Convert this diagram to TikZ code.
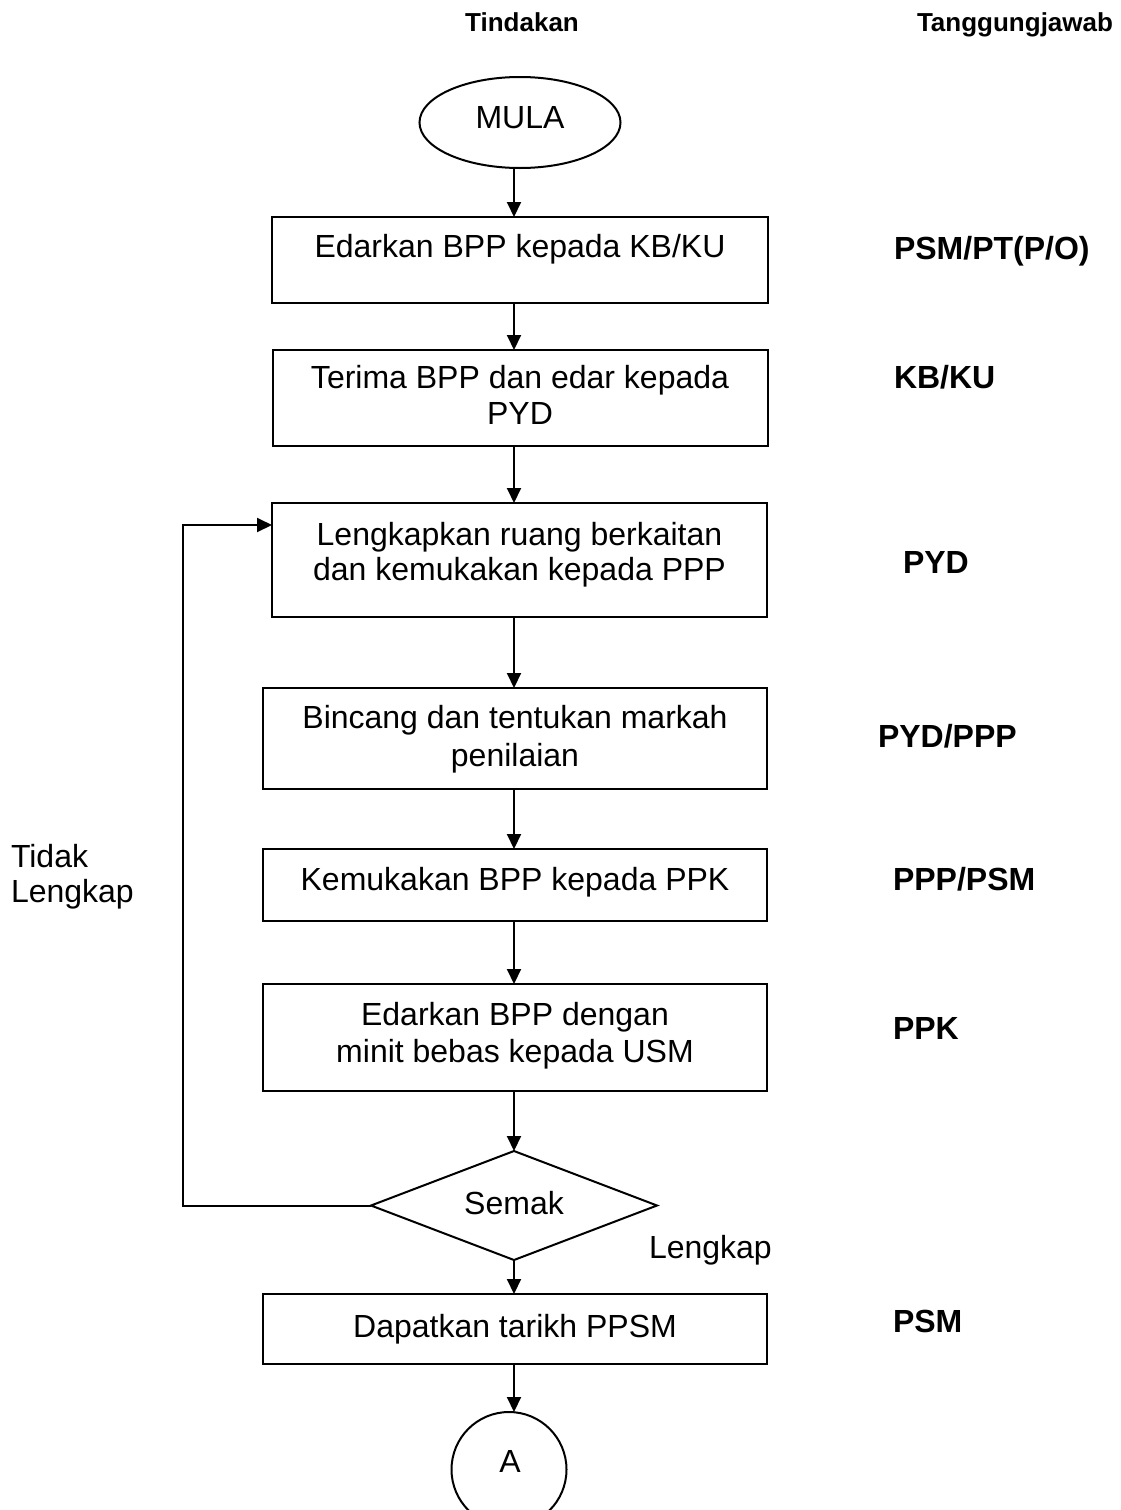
\documentclass[tikz,border=0pt]{standalone}
\usepackage{fontspec}
\setmainfont{Liberation Sans}
\usetikzlibrary{arrows.meta,shapes.geometric}
\begin{document}
\begin{tikzpicture}[x=1pt,y=-1pt,
  every node/.style={inner sep=0pt,outer sep=0pt},
  line/.style={line width=2pt},
  arr/.style={line, -{Triangle[length=15pt,width=14pt]}},
  stepbox/.style={draw,line width=2pt,rectangle,anchor=north west},
  body/.style={font=\fontsize{32}{37}\selectfont,anchor=base},
  who/.style={font=\fontsize{32}{37}\selectfont\bfseries,anchor=base west},
  head/.style={font=\fontsize{26}{30}\selectfont\bfseries,anchor=base}]
\useasboundingbox (0,0) rectangle (1121,1510);

% column headings
\node[head] (h1) at (522,31) {Tindakan};
\node[head] (h2) at (1015,31) {Tanggungjawab};

% terminal
\node[draw,line,ellipse,minimum width=201pt,minimum height=91pt] (mula) at (520,122.5) {};
\node[body] (mulat) at (520,128.5) {MULA};

% process boxes with their text lines
\node[stepbox,minimum width=496pt,minimum height=86pt] (b1) at (272,217) {};
\node[body] (b1t) at (520,257.5) {Edarkan BPP kepada KB/KU};

\node[stepbox,minimum width=495pt,minimum height=96pt] (b2) at (273,350) {};
\node[body] (b2ta) at (520,388.5) {Terima BPP dan edar kepada};
\node[body] (b2tb) at (520,424.5) {PYD};

\node[stepbox,minimum width=495pt,minimum height=114pt] (b3) at (272,503) {};
\node[body] (b3ta) at (519.5,545.5) {Lengkapkan ruang berkaitan};
\node[body] (b3tb) at (519.5,580.5) {dan kemukakan kepada PPP};

\node[stepbox,minimum width=504pt,minimum height=101pt] (b4) at (263,688) {};
\node[body] (b4ta) at (515,728.5) {Bincang dan tentukan markah};
\node[body] (b4tb) at (515,766) {penilaian};

\node[stepbox,minimum width=504pt,minimum height=72pt] (b5) at (263,849) {};
\node[body] (b5t) at (515,890.5) {Kemukakan BPP kepada PPK};

\node[stepbox,minimum width=504pt,minimum height=107pt] (b6) at (263,984) {};
\node[body] (b6ta) at (515,1025.5) {Edarkan BPP dengan};
\node[body] (b6tb) at (515,1062.5) {minit bebas kepada USM};

% decision
\node[draw,line,diamond,minimum width=286pt,minimum height=109pt] (sm) at (514,1205.5) {};
\node[body] (smt) at (514,1214.5) {Semak};

\node[stepbox,minimum width=504pt,minimum height=70pt] (b7) at (263,1294) {};
\node[body] (b7t) at (515,1337.5) {Dapatkan tarikh PPSM};

% off-page connector
\node[draw,line,circle,minimum size=115pt] (ca) at (509,1469.5) {};
\node[body] (cat) at (510,1472.5) {A};

% main flow along the spine
\coordinate (sp) at (514,0);
\draw[arr] (mula.south -| sp) -- (b1.north -| sp);
\draw[arr] (b1.south -| sp) -- (b2.north -| sp);
\draw[arr] (b2.south -| sp) -- (b3.north -| sp);
\draw[arr] (b3.south -| sp) -- (b4.north -| sp);
\draw[arr] (b4.south -| sp) -- (b5.north -| sp);
\draw[arr] (b5.south -| sp) -- (b6.north -| sp);
\draw[arr] (b6.south -| sp) -- (sm.north -| sp);
\draw[arr] (sm.south -| sp) -- (b7.north -| sp);
\draw[arr] (b7.south -| sp) -- (ca.north -| sp);

% return path when incomplete
\coordinate (lp) at (183,525);
\draw[arr] (sm.west) -| (lp) -- (lp -| b3.west);

% branch labels
\node[body,anchor=base west] (tl1) at (11,867.5) {Tidak};
\node[body,anchor=base west] (tl2) at (11,902.5) {Lengkap};
\node[body,anchor=base west] (ll) at (649,1258) {Lengkap};

% responsibilities
\node[who] (r1) at (894,259.5) {PSM/PT(P/O)};
\node[who] (r2) at (894,388.5) {KB/KU};
\node[who] (r3) at (903,573.5) {PYD};
\node[who] (r4) at (878,747.5) {PYD/PPP};
\node[who] (r5) at (893,890.5) {PPP/PSM};
\node[who] (r6) at (893,1039.5) {PPK};
\node[who] (r7) at (893,1332.5) {PSM};
\end{tikzpicture}
\end{document}
